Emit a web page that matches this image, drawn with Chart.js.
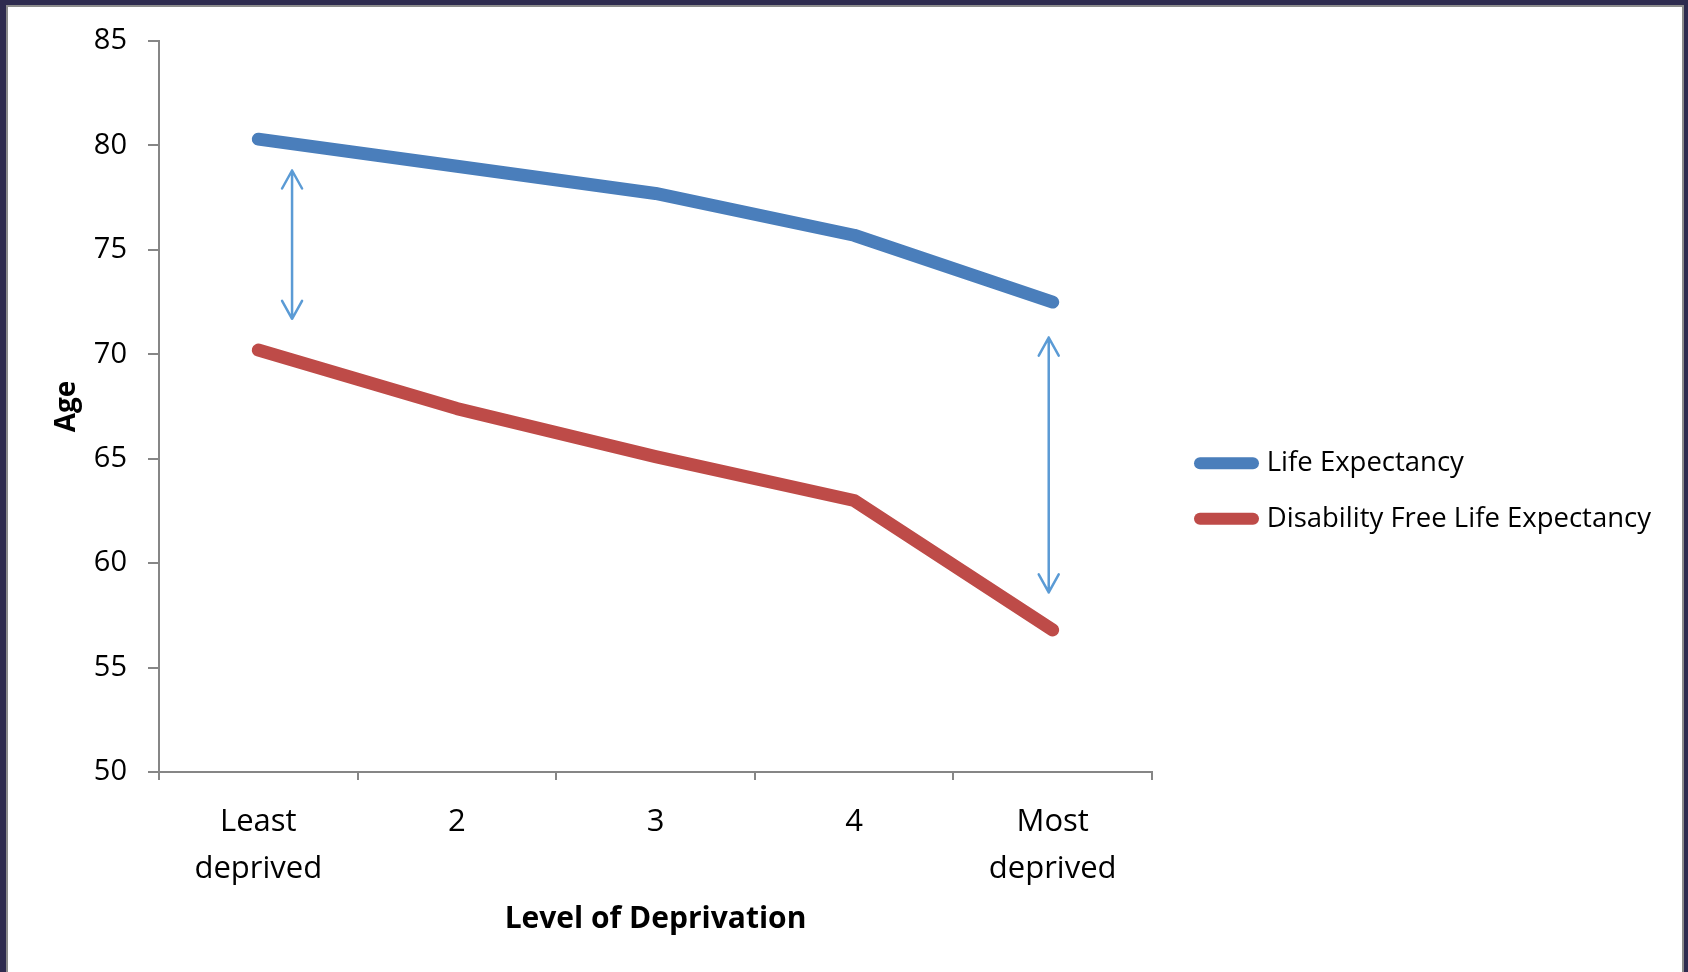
<!DOCTYPE html>
<html>
<head>
<meta charset="utf-8">
<script src="https://cdn.jsdelivr.net/npm/chart.js@4/dist/chart.umd.min.js"></script>
<style>
  html, body { margin: 0; padding: 0; }
  body { width: 1688px; height: 972px; overflow: hidden; background: #2e2b4f; position: relative; }
  .frame {
    position: absolute; left: 6px; top: 5px; width: 1678px; height: 980px;
    box-sizing: border-box; background: #ffffff;
    border-left: 2px solid #8c8c8c; border-top: 2px solid #8c8c8c; border-right: 2px solid #8c8c8c;
  }
  #chart { position: absolute; left: 0; top: 0; width: 1688px; height: 972px; }
</style>
</head>
<body>
<div class="frame"></div>
<canvas id="chart" width="1688" height="972"></canvas>
<script>
// Deprivation levels (least to most deprived)
const categories = [['Least', 'deprived'], '2', '3', '4', ['Most', 'deprived']];

// Ages by deprivation level
const lifeExpectancy = [80.3, 79.0, 77.7, 75.7, 72.5];
const disabilityFreeLifeExpectancy = [70.2, 67.4, 65.1, 63.0, 56.8];

// Y axis range
const yMin = 50;
const yMax = 85;
const yStep = 5;

// Gap arrows between the two series: category position, top and bottom age
const gapArrowAt = [0.17, 3.98];
const gapArrowTop = [78.8, 70.8];
const gapArrowBottom = [71.7, 58.6];

const BLUE = '#4a7ebb';
const RED = '#be4b48';
const ARROW = '#5b9bd5';
const AXIS = '#868686';
const FONT = '"Open Sans", "DejaVu Sans", sans-serif';
const LEGEND_BOX_WIDTH = 516;

// Double-headed arrows marking the gap between the lines
const gapArrows = {
  id: 'gapArrows',
  afterDatasetsDraw(chart) {
    const { ctx, scales: { x, y } } = chart;
    ctx.save();
    ctx.strokeStyle = ARROW;
    ctx.lineWidth = 2.5;
    ctx.lineCap = 'round';
    ctx.lineJoin = 'round';
    const head = 18, half = 10;
    gapArrowAt.forEach((pos, i) => {
      const px = x.getPixelForValue(pos);
      const top = y.getPixelForValue(gapArrowTop[i]);
      const bot = y.getPixelForValue(gapArrowBottom[i]);
      ctx.beginPath();
      ctx.moveTo(px, top);
      ctx.lineTo(px, bot);
      ctx.moveTo(px - half, top + head);
      ctx.lineTo(px, top);
      ctx.lineTo(px + half, top + head);
      ctx.moveTo(px - half, bot - head);
      ctx.lineTo(px, bot);
      ctx.lineTo(px + half, bot - head);
      ctx.stroke();
    });
    ctx.restore();
  }
};

// Give the right-hand legend a fixed width so its long label is not cut off
const legendWidth = {
  id: 'legendWidth',
  afterInit(chart) {
    const legend = chart.legend;
    if (!legend) return;
    const fit = legend.fit.bind(legend);
    legend.fit = function () {
      fit();
      this.width = LEGEND_BOX_WIDTH;
    };
  }
};

new Chart(document.getElementById('chart'), {
  type: 'line',
  data: {
    labels: categories,
    datasets: [
      {
        label: 'Life Expectancy',
        data: lifeExpectancy,
        borderColor: BLUE,
        backgroundColor: BLUE,
        borderWidth: 13,
        borderCapStyle: 'round',
        borderJoinStyle: 'round',
        pointRadius: 0,
        tension: 0
      },
      {
        label: 'Disability Free Life Expectancy',
        data: disabilityFreeLifeExpectancy,
        borderColor: RED,
        backgroundColor: RED,
        borderWidth: 13,
        borderCapStyle: 'round',
        borderJoinStyle: 'round',
        pointRadius: 0,
        tension: 0
      }
    ]
  },
  options: {
    responsive: false,
    animation: false,
    events: [],
    layout: { padding: { left: 0, right: 0, top: 41, bottom: 31 } },
    plugins: {
      tooltip: { enabled: false },
      legend: {
        position: 'right',
        align: 'center',
        labels: {
          font: { family: FONT, size: 27.5 },
          color: '#000000',
          padding: 28,
          usePointStyle: true,
          pointStyleWidth: 53,
          generateLabels(chart) {
            return chart.data.datasets.map((ds, i) => ({
              text: ds.label,
              fillStyle: ds.borderColor,
              strokeStyle: ds.borderColor,
              lineWidth: 12,
              lineCap: 'round',
              pointStyle: 'line',
              fontColor: '#000000',
              hidden: false,
              datasetIndex: i
            }));
          }
        }
      }
    },
    scales: {
      x: {
        type: 'category',
        offset: true,
        grid: {
          display: true,
          offset: true,
          drawOnChartArea: false,
          drawTicks: true,
          tickLength: 8,
          color: AXIS,
          lineWidth: 2
        },
        border: { display: true, color: AXIS, width: 2 },
        ticks: {
          color: '#000000',
          font: { family: FONT, size: 31, lineHeight: 1.5 },
          padding: 19,
          maxRotation: 0,
          autoSkip: false
        },
        title: {
          display: true,
          text: 'Level of Deprivation',
          color: '#000000',
          font: { family: FONT, size: 30, weight: 'bold', lineHeight: 1.2 },
          padding: { top: 0, bottom: 4 }
        },
        afterFit(scale) { scale.height = 169; }
      },
      y: {
        type: 'linear',
        position: 'left',
        min: yMin,
        max: yMax,
        grid: {
          display: true,
          drawOnChartArea: false,
          drawTicks: true,
          tickLength: 11,
          color: AXIS,
          lineWidth: 2
        },
        border: { display: true, color: AXIS, width: 2 },
        ticks: {
          stepSize: yStep,
          color: '#000000',
          font: { family: FONT, size: 29 },
          padding: 21
        },
        title: {
          display: true,
          text: 'Age',
          color: '#000000',
          font: { family: FONT, size: 28, weight: 'bold', lineHeight: 1.2 },
          padding: { top: 50, bottom: 0 }
        },
        afterFit(scale) { scale.width = 159; }
      },
      gap: {
        type: 'linear',
        position: 'right',
        display: true,
        grid: { display: false, drawTicks: false },
        border: { display: false },
        ticks: { display: false },
        afterFit(scale) { scale.width = 20; }
      }
    }
  },
  plugins: [gapArrows, legendWidth]
});
</script>
</body>
</html>
